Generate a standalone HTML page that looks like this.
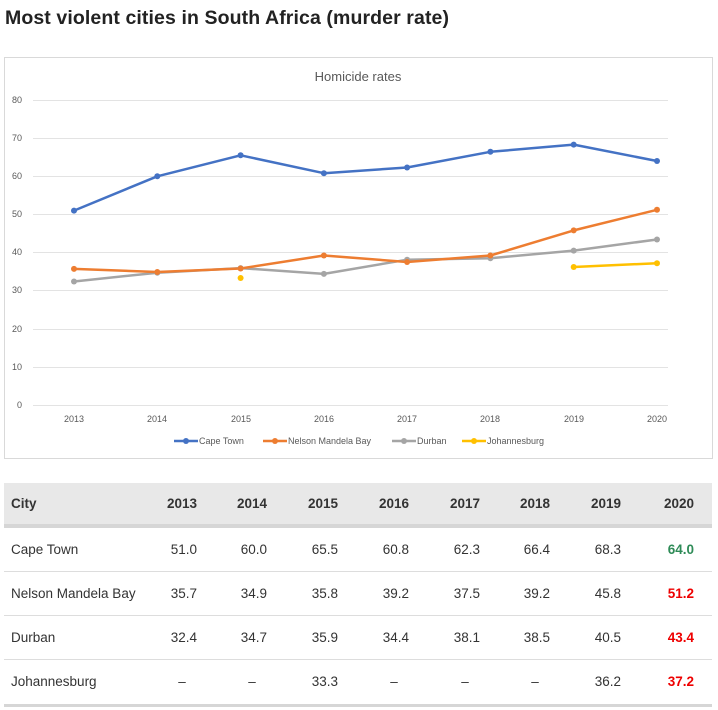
<!DOCTYPE html>
<html><head><meta charset="utf-8"><style>
body{margin:0;width:718px;height:710px;background:#fff;font-family:"Liberation Sans",sans-serif;position:relative;overflow:hidden}
h1{position:absolute;left:5px;top:7px;margin:0;font-size:19.5px;font-weight:bold;color:#222;letter-spacing:0.1px}
.row{position:absolute;left:4px;width:708px;height:44px;font-size:13.5px;color:#333}
.row span{position:absolute;top:0;line-height:44px;text-align:right;width:60px}
.row span.c{left:7px;text-align:left;width:180px}
.hd{background:#e8e8e8;height:41px;font-weight:bold;border-bottom:4px solid #d6d6d6}
.hd span{line-height:41px}
.bd{border-bottom:1px solid #ddd;height:43px}
.last{border-bottom:3px solid #d6d6d6}
.g{color:#2e8b57;font-weight:bold}.r{color:#e00;font-weight:bold}
</style></head><body>
<h1>Most violent cities in South Africa (murder rate)</h1>
<svg style="position:absolute;left:0;top:0" width="718" height="470" font-family="Liberation Sans, sans-serif">
<rect x="4.5" y="57.5" width="708" height="401" fill="#fff" stroke="#d9d9d9"/>
<text x="358" y="81" font-size="13" fill="#595959" text-anchor="middle">Homicide rates</text>
<g stroke="#e3e3e3" stroke-width="1">
<line x1="33" x2="668" y1="100.5" y2="100.5"/><line x1="33" x2="668" y1="138.5" y2="138.5"/><line x1="33" x2="668" y1="176.5" y2="176.5"/><line x1="33" x2="668" y1="214.5" y2="214.5"/><line x1="33" x2="668" y1="252.5" y2="252.5"/><line x1="33" x2="668" y1="290.5" y2="290.5"/><line x1="33" x2="668" y1="329.5" y2="329.5"/><line x1="33" x2="668" y1="367.5" y2="367.5"/><line x1="33" x2="668" y1="405.5" y2="405.5"/>
</g>
<g font-size="9" fill="#595959" text-anchor="end">
<text x="22" y="103">80</text><text x="22" y="141">70</text><text x="22" y="179">60</text><text x="22" y="217">50</text><text x="22" y="255">40</text><text x="22" y="293">30</text><text x="22" y="332">20</text><text x="22" y="370">10</text><text x="22" y="408">0</text>
</g>
<g font-size="9" fill="#595959" text-anchor="middle">
<text x="74" y="422">2013</text><text x="157" y="422">2014</text><text x="241" y="422">2015</text><text x="324" y="422">2016</text><text x="407" y="422">2017</text><text x="490" y="422">2018</text><text x="574" y="422">2019</text><text x="657" y="422">2020</text>
</g>
<g fill="none" stroke-width="2.5" stroke-linejoin="round">
<polyline stroke="#a5a5a5" points="74,281.5 157.3,272.7 240.6,268.1 323.9,273.9 407.1,259.7 490.4,258.2 573.7,250.6 657,239.5"/>
<polyline stroke="#ed7d31" points="74,268.9 157.3,272 240.6,268.5 323.9,255.5 407.1,262 490.4,255.5 573.7,230.4 657,209.8"/>
<polyline stroke="#4472c4" points="74,210.6 157.3,176.3 240.6,155.3 323.9,173.2 407.1,167.5 490.4,151.8 573.7,144.6 657,161"/>
<polyline stroke="#ffc000" points="573.7,267 657,263.2"/>
</g>
<g fill="#a5a5a5"><circle cx="74" cy="281.5" r="3"/><circle cx="157.3" cy="272.7" r="3"/><circle cx="240.6" cy="268.1" r="3"/><circle cx="323.9" cy="273.9" r="3"/><circle cx="407.1" cy="259.7" r="3"/><circle cx="490.4" cy="258.2" r="3"/><circle cx="573.7" cy="250.6" r="3"/><circle cx="657" cy="239.5" r="3"/></g>
<g fill="#ed7d31"><circle cx="74" cy="268.9" r="3"/><circle cx="157.3" cy="272" r="3"/><circle cx="240.6" cy="268.5" r="3"/><circle cx="323.9" cy="255.5" r="3"/><circle cx="407.1" cy="262" r="3"/><circle cx="490.4" cy="255.5" r="3"/><circle cx="573.7" cy="230.4" r="3"/><circle cx="657" cy="209.8" r="3"/></g>
<g fill="#4472c4"><circle cx="74" cy="210.6" r="3"/><circle cx="157.3" cy="176.3" r="3"/><circle cx="240.6" cy="155.3" r="3"/><circle cx="323.9" cy="173.2" r="3"/><circle cx="407.1" cy="167.5" r="3"/><circle cx="490.4" cy="151.8" r="3"/><circle cx="573.7" cy="144.6" r="3"/><circle cx="657" cy="161" r="3"/></g>
<g fill="#ffc000"><circle cx="240.6" cy="278" r="3"/><circle cx="573.7" cy="267" r="3"/><circle cx="657" cy="263.2" r="3"/></g>
<g font-size="9" fill="#595959">
<line x1="174" x2="198" y1="441" y2="441" stroke="#4472c4" stroke-width="2.5"/><circle cx="186" cy="441" r="3" fill="#4472c4"/><text x="199" y="444">Cape Town</text>
<line x1="263" x2="287" y1="441" y2="441" stroke="#ed7d31" stroke-width="2.5"/><circle cx="275" cy="441" r="3" fill="#ed7d31"/><text x="288" y="444">Nelson Mandela Bay</text>
<line x1="392" x2="416" y1="441" y2="441" stroke="#a5a5a5" stroke-width="2.5"/><circle cx="404" cy="441" r="3" fill="#a5a5a5"/><text x="417" y="444">Durban</text>
<line x1="462" x2="486" y1="441" y2="441" stroke="#ffc000" stroke-width="2.5"/><circle cx="474" cy="441" r="3" fill="#ffc000"/><text x="487" y="444">Johannesburg</text>
</g>
</svg>
<div class="row hd" style="top:483px"><span class="c">City</span><span style="left:133px">2013</span><span style="left:203px">2014</span><span style="left:274px">2015</span><span style="left:345px">2016</span><span style="left:416px">2017</span><span style="left:486px">2018</span><span style="left:557px">2019</span><span style="left:630px">2020</span></div>
<div class="row bd" style="top:528px"><span class="c">Cape Town</span><span style="left:133px">51.0</span><span style="left:203px">60.0</span><span style="left:274px">65.5</span><span style="left:345px">60.8</span><span style="left:416px">62.3</span><span style="left:486px">66.4</span><span style="left:557px">68.3</span><span class="g" style="left:630px">64.0</span></div>
<div class="row bd" style="top:572px"><span class="c">Nelson Mandela Bay</span><span style="left:133px">35.7</span><span style="left:203px">34.9</span><span style="left:274px">35.8</span><span style="left:345px">39.2</span><span style="left:416px">37.5</span><span style="left:486px">39.2</span><span style="left:557px">45.8</span><span class="r" style="left:630px">51.2</span></div>
<div class="row bd" style="top:616px"><span class="c">Durban</span><span style="left:133px">32.4</span><span style="left:203px">34.7</span><span style="left:274px">35.9</span><span style="left:345px">34.4</span><span style="left:416px">38.1</span><span style="left:486px">38.5</span><span style="left:557px">40.5</span><span class="r" style="left:630px">43.4</span></div>
<div class="row last" style="top:660px"><span class="c">Johannesburg</span><span style="left:133px">–&nbsp;&nbsp;&nbsp;</span><span style="left:203px">–&nbsp;&nbsp;&nbsp;</span><span style="left:274px">33.3</span><span style="left:345px">–&nbsp;&nbsp;&nbsp;</span><span style="left:416px">–&nbsp;&nbsp;&nbsp;</span><span style="left:486px">–&nbsp;&nbsp;&nbsp;</span><span style="left:557px">36.2</span><span class="r" style="left:630px">37.2</span></div>
</body></html>
